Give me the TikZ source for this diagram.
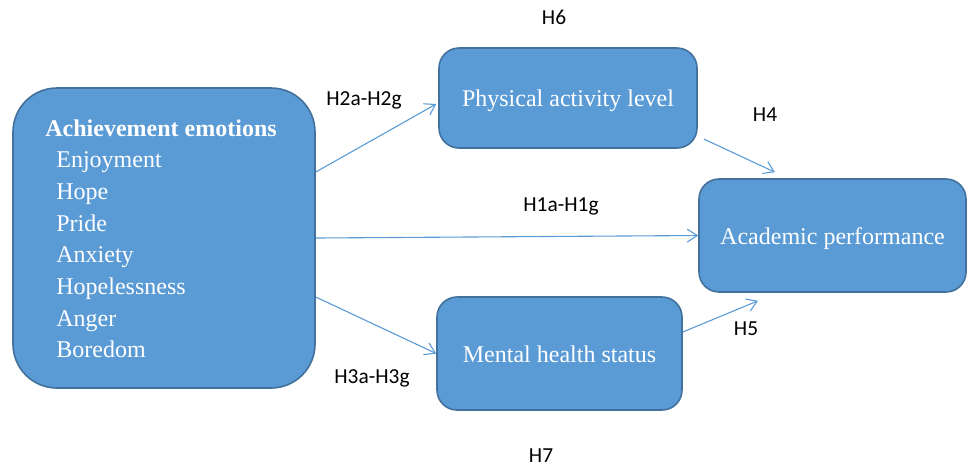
\documentclass[tikz,border=0pt]{standalone}
\usepackage{fontspec}
\setmainfont{Liberation Serif}
\newfontfamily\hypfont{Carlito}
\usetikzlibrary{arrows.meta}
\definecolor{boxblue}{HTML}{5B9BD5}
\definecolor{boxedge}{HTML}{41719C}
\tikzset{
  varbox/.style={draw=boxedge, line width=0.8pt, fill=boxblue, rounded corners=10pt,
    text=white, inner sep=0pt, text height=8.5pt, text depth=0pt, font=\fontsize{12}{14}\selectfont},
  itemtext/.style={anchor=base west, text=white, inner sep=0pt, font=\fontsize{12}{14}\selectfont},
  hyp/.style={font=\hypfont\fontsize{10.7}{13}\selectfont},
  link/.style={draw=boxblue, line width=0.55pt, -{Straight Barb[length=5pt,width=6.5pt]}}
}
\begin{document}
\begin{tikzpicture}[x=0.5pt,y=-0.5pt]
\useasboundingbox (0,0) rectangle (967,468);

% Marking box for achievement emotions
\node [varbox, rounded corners=22pt, minimum width=151pt, minimum height=150pt] (emo) at (164,238) {};
\node [itemtext, font=\bfseries\fontsize{12}{14}\selectfont] (head) at (45,136) {Achievement emotions};
\foreach \name [count=\i] in {Enjoyment,Hope,Pride,Anxiety,Hopelessness,Anger,Boredom}
  \node [itemtext] (item\i) at (56,{136+31.7*\i}) {\name};

% Marking the three other boxes
\node [varbox, minimum width=129pt, minimum height=50pt] (pal) at (568,98) {Physical activity level};
\node [varbox, minimum width=133.5pt, minimum height=56.5pt] (ap) at (832.5,235.5) {Academic performance};
\node [varbox, minimum width=122.5pt, minimum height=56.5pt] (mhs) at (559.5,353.5) {Mental health status};

% Drawing the paths
\draw [link] ([yshift=33pt]emo.east) -- ([xshift=-1pt,yshift=-3pt]pal.west);
\draw [link] (emo.east) -- (ap.west);
\draw [link] ([yshift=-29.5pt]emo.east) -- (mhs.west);
\draw [link] ([xshift=3pt,yshift=-20.5pt]pal.east) -- ([xshift=-28.75pt,yshift=3pt]ap.north);
\draw [link] ([yshift=10.75pt]mhs.east) -- ([xshift=-37.25pt,yshift=-4pt]ap.south);

% Marking hypotheses
\node [hyp] (h6) at (554,17) {H6};
\node [hyp] (h2) at (364,100) {H2a-H2g};
\node [hyp] (h4) at (765,115) {H4};
\node [hyp] (h1) at (561,206) {H1a-H1g};
\node [hyp] (h5) at (746,329) {H5};
\node [hyp] (h3) at (372,378) {H3a-H3g};
\node [hyp] (h7) at (541,456) {H7};
\end{tikzpicture}
\end{document}
